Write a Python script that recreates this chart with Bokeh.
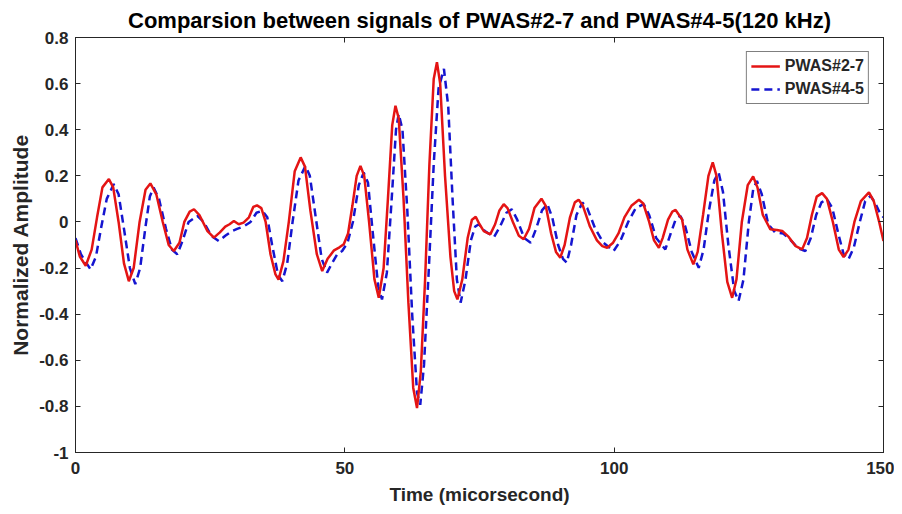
from bokeh.plotting import figure
from bokeh.models import Range1d, FixedTicker, LinearAxis, Legend, LegendItem, ColumnDataSource
from bokeh.embed import file_html
from bokeh.resources import INLINE

# ---- data ----
red_t = [0.0, 0.8, 1.9, 3.0, 4.0, 5.0, 6.2, 7.0, 8.0, 9.0, 9.9, 10.8, 11.9, 13.0, 13.9, 15.0,
         16.2, 17.3, 18.25, 19.3, 20.2, 21.2, 22.0, 23.0, 24.5, 25.7, 26.8, 27.8, 28.6, 29.4,
         30.3, 31.2, 32.2, 33.0, 33.7, 34.5, 35.3, 36.2, 37.1, 37.7, 38.6, 39.6, 40.7, 41.8,
         42.6, 43.6, 44.8, 45.8, 46.8, 48.0, 49.0, 49.8, 50.6, 51.4, 52.2, 52.9, 53.6, 54.5,
         55.5, 56.3, 57.2, 58.0, 58.8, 59.4, 60.0, 60.9, 61.8, 62.7, 63.4, 64.1, 64.9, 65.7,
         66.5, 67.1, 67.7, 68.6, 69.6, 70.3, 70.9, 71.8, 72.8, 73.6, 74.3, 75.0, 75.8, 77.0,
         77.9, 78.7, 79.5, 80.2, 81.2, 82.3, 83.2, 84.2, 85.2, 86.5, 87.3, 88.3, 89.2, 90.0,
         90.8, 91.8, 92.7, 93.4, 94.2, 95.5, 96.8, 97.8, 98.7, 99.8, 100.8, 101.9, 103.2,
         104.6, 105.4, 106.5, 107.4, 108.3, 109.0, 110.0, 110.8, 111.4, 112.2, 112.6, 113.6,
         114.7, 115.5, 116.5, 117.5, 118.3, 119.0, 120.0, 121.0, 121.9, 122.7, 123.7, 124.8,
         125.8, 126.6, 127.6, 129.0, 130.2, 131.2, 132.4, 133.7, 134.9, 135.8, 136.7, 137.6,
         138.6, 139.5, 140.6, 141.7, 142.6, 143.5, 144.6, 145.8, 147.3, 148.2, 149.2, 150.0]
red_v = [-0.08, -0.15, -0.19, -0.12, 0.02, 0.15, 0.186, 0.15, 0.0, -0.18, -0.257, -0.2, 0.0, 0.14, 0.167, 0.12,
         0.0, -0.10, -0.126, -0.09, 0.0, 0.045, 0.055, 0.03, -0.04, -0.068, -0.045, -0.02, -0.01, 0.004,
         -0.01, -0.003, 0.02, 0.065, 0.072, 0.06, 0.0, -0.14, -0.226, -0.25, -0.17, 0.0, 0.22, 0.28,
         0.24, 0.05, -0.14, -0.213, -0.16, -0.123, -0.11, -0.097, -0.05, 0.07, 0.2, 0.243, 0.2, 0.0,
         -0.25, -0.329, -0.2, 0.1, 0.42, 0.504, 0.45, 0.1, -0.35, -0.72, -0.807, -0.65, -0.25, 0.25,
         0.62, 0.693, 0.6, 0.2, -0.15, -0.3, -0.336, -0.25, -0.07, 0.01, 0.022, -0.01, -0.04, -0.054,
         -0.01, 0.05, 0.077, 0.06, 0.0, -0.06, -0.075, -0.03, 0.06, 0.101, 0.07, -0.05, -0.13, -0.155,
         -0.1, 0.02, 0.085, 0.096, 0.07, -0.02, -0.08, -0.105, -0.112, -0.09, -0.05, 0.02, 0.07,
         0.096, 0.08, 0.0, -0.08, -0.112, -0.07, 0.01, 0.045, 0.052, 0.025, 0.012, -0.12,
         -0.184, -0.13, 0.03, 0.2, 0.258, 0.2, -0.05, -0.26, -0.329, -0.25, 0.0, 0.16,
         0.197, 0.15, 0.03, -0.032, -0.035, -0.039, -0.065, -0.105, -0.119, -0.07, 0.03, 0.11,
         0.125, 0.1, 0.0, -0.12, -0.152, -0.12, 0.0, 0.09, 0.128, 0.09, 0.0, -0.083]

blue_t = [0.0, 1.0, 2.8, 3.8, 4.8, 5.8, 7.1, 8.0, 9.0, 10.1, 11.1, 12.0, 13.0, 13.8, 14.5, 15.5,
          16.8, 17.9, 18.9, 19.9, 21.0, 22.6, 23.8, 25.2, 26.6, 27.8, 29.0, 30.0, 31.2, 32.5,
          33.6, 34.7, 35.6, 36.5, 37.6, 38.4, 39.3, 40.3, 41.4, 42.7, 43.5, 44.6, 45.7, 46.7,
          47.6, 48.6, 49.5, 50.5, 51.5, 52.6, 53.5, 54.3, 55.2, 56.2, 56.9, 57.8, 58.7, 59.5,
          60.0, 60.7, 61.6, 62.5, 63.4, 64.0, 64.7, 65.6, 66.5, 67.4, 68.4, 69.2, 70.0, 70.8,
          71.5, 72.4, 73.4, 74.2, 74.9, 76.0, 77.7, 78.8, 80.0, 81.0, 82.0, 83.3, 84.5, 85.5,
          86.6, 87.6, 88.5, 89.6, 90.5, 91.2, 92.0, 93.0, 94.1, 95.0, 96.5, 98.0, 99.9, 101.2,
          102.6, 104.0, 105.5, 106.5, 107.8, 109.5, 110.5, 111.4, 112.3, 113.2, 114.4, 115.7,
          116.6, 117.6, 118.6, 119.4, 120.2, 121.2, 122.3, 123.1, 124.0, 125.0, 125.8, 126.5,
          127.4, 128.6, 129.9, 131.4, 132.8, 134.2, 135.5, 136.5, 137.5, 138.5, 139.5, 140.5,
          141.6, 142.6, 143.5, 144.5, 145.6, 146.6, 147.6, 148.5, 149.3, 150.0]
blue_v = [-0.07, -0.14, -0.206, -0.15, -0.02, 0.1, 0.164, 0.12, -0.03, -0.2, -0.27, -0.2, -0.02, 0.11, 0.149, 0.1,
          -0.03, -0.12, -0.14, -0.08, 0.0, 0.026, 0.0, -0.06, -0.083, -0.06, -0.04, -0.03, -0.02, 0.0,
          0.04, 0.048, 0.02, -0.1, -0.23, -0.257, -0.18, 0.0, 0.18, 0.243, 0.2, 0.02, -0.16, -0.22,
          -0.18, -0.14, -0.126, -0.09, 0.0, 0.16, 0.214, 0.17, -0.05, -0.28, -0.336, -0.22, 0.1, 0.4,
          0.468, 0.4, 0.05, -0.4, -0.74, -0.793, -0.62, -0.2, 0.25, 0.58, 0.664, 0.5, 0.1, -0.25,
          -0.35, -0.25, -0.08, -0.02, -0.01, -0.04, -0.065, -0.02, 0.04, 0.055, 0.01, -0.07, -0.09, -0.03,
          0.05, 0.077, 0.02, -0.1, -0.16, -0.177, -0.1, 0.03, 0.084, 0.06, -0.03, -0.09, -0.126, -0.08,
          0.0, 0.06, 0.077, 0.03, -0.07, -0.119, -0.05, 0.01, 0.026, -0.02, -0.13, -0.199,
          -0.12, 0.05, 0.18, 0.214, 0.13, -0.1, -0.3, -0.343, -0.25, 0.0, 0.14, 0.178,
          0.12, -0.01, -0.046, -0.05, -0.08, -0.115, -0.126, -0.07, 0.03, 0.085, 0.099, 0.06,
          -0.05, -0.14, -0.162, -0.11, 0.0, 0.09, 0.113, 0.08, 0.04, 0.02]

x_ticks = [0, 50, 100, 150]
y_ticks = [0.8, 0.6, 0.4, 0.2, 0.0, -0.2, -0.4, -0.6, -0.8, -1.0]
y_tick_labels = ["0.8", "0.6", "0.4", "0.2", "0", "-0.2", "-0.4", "-0.6", "-0.8", "-1"]
series_names = ["PWAS#2-7", "PWAS#4-5"]
title_text = "Comparsion between signals of PWAS#2-7 and PWAS#4-5(120 kHz)"

FONT = "Liberation Sans"
AX = "#262626"

# fixed plot-area size; borders around it
p = figure(frame_width=808, frame_height=415, output_backend="svg", toolbar_location=None,
           x_range=Range1d(0, 150), y_range=Range1d(-1, 0.8),
           min_border_left=75, min_border_right=11, min_border_top=37, min_border_bottom=54,
           title=title_text)

p.title.text_font = FONT
p.title.text_font_size = "22px"
p.title.text_font_style = "bold"
p.title.align = "center"
p.title.text_color = "#000000"
p.title.standoff = 10

p.xgrid.visible = False
p.ygrid.visible = False
p.outline_line_color = AX
p.outline_line_width = 1
p.background_fill_color = "white"
p.border_fill_color = "white"

for ax in (p.xaxis[0], p.yaxis[0]):
    ax.axis_line_color = AX
    ax.major_tick_line_color = AX
    ax.major_tick_in = 5
    ax.major_tick_out = 0
    ax.minor_tick_line_color = None
    ax.major_label_text_font = FONT
    ax.major_label_text_font_size = "17px"
    ax.major_label_text_font_style = "bold"
    ax.major_label_text_color = AX
    ax.axis_label_text_font = FONT
    ax.axis_label_text_font_style = "bold"
    ax.axis_label_text_color = AX

p.xaxis[0].ticker = FixedTicker(ticks=x_ticks)
p.yaxis[0].ticker = FixedTicker(ticks=y_ticks)
p.yaxis[0].major_label_overrides = {t: l for t, l in zip(y_ticks, y_tick_labels)}
p.xaxis[0].axis_label = "Time (micorsecond)"
p.yaxis[0].axis_label = "Normalized Amplitude"
p.xaxis[0].axis_label_text_font_size = "19px"
p.yaxis[0].axis_label_text_font_size = "21px"
p.xaxis[0].major_label_standoff = 9
p.yaxis[0].major_label_standoff = 7
p.xaxis[0].axis_label_standoff = 7
p.yaxis[0].axis_label_standoff = 4

# box ticks on top and right (no labels)
top = LinearAxis(ticker=FixedTicker(ticks=x_ticks),
                 major_label_overrides={t: "" for t in x_ticks},
                 major_tick_in=5, major_tick_out=0, major_label_standoff=0,
                 axis_line_color=AX, major_tick_line_color=AX, minor_tick_line_color=None)
right = LinearAxis(ticker=FixedTicker(ticks=y_ticks),
                   major_label_overrides={t: "" for t in y_ticks},
                   major_tick_in=5, major_tick_out=0, major_label_standoff=0,
                   axis_line_color=AX, major_tick_line_color=AX, minor_tick_line_color=None)
p.add_layout(top, "above")
p.add_layout(right, "right")

src_b = ColumnDataSource(dict(t=blue_t, v=blue_v))
src_r = ColumnDataSource(dict(t=red_t, v=red_v))
lb = p.line("t", "v", source=src_b, line_color="#1515d0", line_width=2.5, line_dash="8 5")
lr = p.line("t", "v", source=src_r, line_color="#e41414", line_width=2.5)

legend = Legend(items=[LegendItem(label=series_names[0], renderers=[lr]),
                       LegendItem(label=series_names[1], renderers=[lb])],
                location="top_right")
legend.label_text_font = FONT
legend.label_text_font_size = "16px"
legend.label_text_font_style = "bold"
legend.label_text_color = AX
legend.border_line_color = "#000000"
legend.border_line_width = 1
legend.glyph_width = 29
legend.glyph_height = 20
legend.label_height = 20
legend.spacing = 3
legend.padding = 4
legend.margin = 14
legend.label_standoff = 5
p.add_layout(legend)

open("out.html", "w").write(file_html(p, INLINE))
